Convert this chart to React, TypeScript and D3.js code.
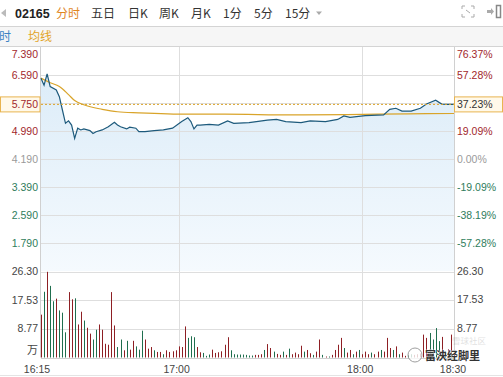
import React from "react";
import * as d3 from "d3";

const W = 503;
const H = 377;

// ---------- data ----------
const tabs = ["分时", "五日", "日K", "周K", "月K", "1分", "5分", "15分"];
const tabX = [56, 91, 128, 159, 191, 223, 254, 285];
const code = "02165";
const prevClose = 4.19;
const lastPrice = 5.75;
const priceTicks = [7.39, 6.59, 5.79, 4.99, 4.19, 3.39, 2.59, 1.79];
const volTicks = [26.3, 17.53, 8.77];
const timeLabels = ["16:15", "17:00", "18:00", "18:30"];
const timeMinutes = [0, 45, 105, 135];

const priceMin = [0, 1, 2, 3, 5, 6, 7, 8, 9, 10, 11, 12, 13, 14, 16, 17, 18, 20, 22, 24, 25, 26, 28, 29, 31, 32, 34, 37, 40, 43, 46, 48, 49, 50, 51, 52, 55, 58, 61, 63, 68, 74, 77, 80, 85, 88, 93, 97, 99, 101, 106, 112, 114, 116, 118, 121, 124, 126, 129, 131, 133, 135];
const priceVal = [6.5, 6.3, 6.62, 6.26, 6.16, 5.97, 5.59, 5.21, 5.28, 5.16, 4.78, 5.07, 5.02, 5.05, 5.0, 4.92, 4.97, 5.02, 5.11, 5.24, 5.16, 5.11, 5.05, 5.1, 5.07, 4.97, 4.97, 5.0, 5.02, 5.07, 5.26, 5.37, 5.26, 5.05, 5.16, 5.16, 5.18, 5.16, 5.28, 5.21, 5.23, 5.3, 5.32, 5.26, 5.23, 5.28, 5.26, 5.32, 5.42, 5.38, 5.43, 5.45, 5.61, 5.64, 5.56, 5.56, 5.64, 5.76, 5.87, 5.76, 5.75, 5.75];

const avgMin = [0, 3, 6, 9, 11, 14, 20, 25, 32, 48, 60, 82, 100, 120, 135];
const avgVal = [6.5, 6.37, 6.26, 6.03, 5.86, 5.74, 5.61, 5.54, 5.51, 5.47, 5.47, 5.45, 5.46, 5.48, 5.49];

const volumes = [13.1, 20.1, 26.2, 21.9, 17.2, 18.0, 14.4, 13.7, 7.7, 20.0, 17.8, 18.1, 10.1, 14.0, 11.3, 9.1, 7.3, 5.5, 8.5, 10.1, 8.5, 4.2, 3.9, 20.0, 9.8, 3.2, 5.5, 2.2, 5.1, 2.4, 5.1, 3.4, 2.4, 8.2, 5.5, 2.7, 3.2, 2.2, 1.7, 1.7, 1.0, 2.2, 1.7, 1.9, 2.2, 3.4, 3.2, 9.5, 6.0, 6.5, 6.2, 3.2, 1.6, 1.4, 0.5, 0.9, 2.4, 1.4, 1.6, 1.9, 3.9, 6.2, 2.2, 1.0, 0.9, 0.9, 0.9,
  0.8, 0.6, 0.6, 0.8, 0.8, 1.0, 2.3, 4.1, 2.9, 1.8, 1.1, 0.8, 1.8, 0.8, 2.7, 1.0, 1.5, 1.0, 3.6, 1.8, 2.3, 1.3, 0.8, 1.8, 5.5, 0.8, 0.3, 0.3, 0.8, 2.3, 3.9, 6.0, 2.9, 1.5, 2.3, 1.0, 1.8, 2.3, 1.0, 1.8, 1.0, 1.5, 1.0, 1.8, 2.3, 1.8, 6.0, 2.9, 2.3, 3.4, 1.0, 1.5, 0.5, 0.8, 1.0, 0.8, 1.0, 1.2, 7.0, 6.0, 7.5, 5.5, 9.0, 5.0, 6.3, 1.8, 2.5, 7.0, 1.5];
const volDir = ("rgrggrgggr" + "rgrrgrrggr" + "rrrrrggrgr" + "rgggrrrgrr" + "grrrrrrrgg" + "grrgggrrrr" + "rrggggg" +
  "gggrrrgrrg" + "rrgrgrrrrg" + "rrgrrgrgrr" + "rrgrrgrgrr" + "rgrrgrrrgr" + "grrggrrrrr" + "ggggrgrrr").split("");

// ---------- layout ----------
const L = 41, R = 454;
const pTop = 47, pBot = 271;
const vTop = 271.5, vBot = 357.5;

const RED = "#a2272c";
const GREEN = "#2f7d5c";
const GREY = "#9a9a9a";
const GRID = "#dedede";
const numFont = "'Liberation Sans', Arial, sans-serif";
const cjkFont = "'Noto Sans CJK SC', sans-serif";

export default function App() {
  const x = d3.scaleLinear().domain([0, 135]).range([L, R]);
  const yP = d3.scaleLinear().domain([0.99, 7.39]).range([pBot, pTop]);
  const yV = d3.scaleLinear().domain([0, 26.3]).range([vBot, vTop]);

  const pricePts = priceMin.map((m, i) => [m, priceVal[i]] as [number, number]);
  const avgPts = avgMin.map((m, i) => [m, avgVal[i]] as [number, number]);

  const line = d3.line<[number, number]>().x(d => x(d[0])).y(d => yP(d[1])).curve(d3.curveLinear);
  const avgLine = d3.line<[number, number]>().x(d => x(d[0])).y(d => yP(d[1])).curve(d3.curveMonotoneX);
  const area = d3.area<[number, number]>().x(d => x(d[0])).y0(pBot).y1(d => yP(d[1]));

  const pct = (p: number) => ((p / prevClose - 1) * 100).toFixed(2) + "%";
  const priceColor = (p: number) => (Math.abs(p - prevClose) < 1e-6 ? GREY : p > prevClose ? RED : GREEN);

  const yLast = yP(lastPrice);

  return (
    <svg width={W} height={H} style={{ position: "absolute", left: 0, top: 0, background: "#fff" }}>
      <defs>
        <linearGradient id="fillg" x1="0" y1="0" x2="0" y2="1">
          <stop offset="0%" stopColor="#dcecf8" />
          <stop offset="100%" stopColor="#f5fafe" />
        </linearGradient>
      </defs>
      <rect x={0} y={0} width={W} height={H} fill="#fff" />

      {/* header */}
      <path d="M1,13 L6,9 L6,17 Z" fill="#bbb" />
      <text x={15} y={17.5} fontFamily={numFont} fontWeight="bold" fontSize={12.5} fill="#222">{code}</text>
      {tabs.map((t, i) => (
        <text key={t} x={tabX[i]} y={17.5} fontFamily={cjkFont} fontSize={12} fill={i === 0 ? "#e0861f" : "#333"}>{t}</text>
      ))}
      <path d="M316,11.5 L322,11.5 L319,15 Z" fill="#aaa" />
      {/* fullscreen icon */}
      <g stroke="#aaa" strokeWidth={1} fill="none">
        <path d="M462,9 L462,6 L465,6 M471,6 L474,6 L474,9 M462,14 L462,17 L465,17 M471,17 L474,17 L474,14" />
        <path d="M466,10 L470,13" />
      </g>
      <path d="M487,10 L491,10 L491,8 L494,11.5 L491,15 L491,13 L487,13 Z" fill="#aaa" />
      <rect x={496.5} y={5.5} width={4} height={12} fill="none" stroke="#888" strokeWidth={1.5} />
      <line x1={0} x2={W} y1={26.5} y2={26.5} stroke="#d4d4d4" />
      <rect x={0} y={27} width={W} height={19.5} fill="#f6f6f6" />
      <text x={-1} y={40.5} fontFamily={cjkFont} fontSize={12} fill="#3b83c4">时</text>
      <text x={28} y={40.5} fontFamily={cjkFont} fontSize={12} fill="#e2a428">均线</text>
      <line x1={0} x2={W} y1={46.5} y2={46.5} stroke="#d4d4d4" />

      {/* price area */}
      <path d={area(pricePts) || ""} fill="url(#fillg)" />

      {/* grid */}
      {priceTicks.slice(1).map(p => (
        <line key={p} x1={L} x2={R} y1={Math.round(yP(p)) + 0.5} y2={Math.round(yP(p)) + 0.5} stroke={GRID} />
      ))}
      {volTicks.map(v => (
        <line key={v} x1={L} x2={R} y1={Math.round(yV(v)) + 0.5} y2={Math.round(yV(v)) + 0.5} stroke={GRID} />
      ))}
      <line x1={L} x2={R} y1={Math.round(vBot) + 0.5} y2={Math.round(vBot) + 0.5} stroke="#d0d0d0" />
      {[45, 105].map(m => (
        <line key={m} x1={Math.round(x(m)) + 0.5} x2={Math.round(x(m)) + 0.5} y1={pTop} y2={vBot} stroke={GRID} />
      ))}
      <line x1={L - 0.5} x2={L - 0.5} y1={pTop} y2={vBot} stroke="#d0d0d0" />
      <line x1={R + 0.5} x2={R + 0.5} y1={pTop} y2={vBot} stroke="#d0d0d0" />

      {/* average line */}
      <path d={avgLine(avgPts) || ""} fill="none" stroke="#d9a42a" strokeWidth={1.2} />
      {/* price line */}
      <path d={line(pricePts) || ""} fill="none" stroke="#1d5a7c" strokeWidth={1.2} />

      {/* last price dotted line */}
      <line x1={L} x2={R} y1={yLast} y2={yLast} stroke="#d9a42a" strokeWidth={1} strokeDasharray="2,2" />

      {/* volume bars */}
      {volumes.map((v, i) => (
        <line key={i} x1={Math.round(x(i)) + 0.5} x2={Math.round(x(i)) + 0.5} y1={vBot} y2={yV(v)}
          stroke={volDir[i] === "r" ? "#8e1f24" : "#1f6e4e"} strokeWidth={1} />
      ))}

      {/* left price labels */}
      {priceTicks.map((p, i) => i === 2 ? null : (
        <text key={p} x={38} y={(i === 0 ? yP(p) + 7 : yP(p)) + 3.5} textAnchor="end" fontFamily={numFont} fontSize={10.5} fill={priceColor(p)}>{p.toFixed(3)}</text>
      ))}
      {/* right pct labels */}
      {priceTicks.map((p, i) => i === 2 ? null : (
        <text key={p} x={457} y={(i === 0 ? yP(p) + 7 : yP(p)) + 3.5} fontFamily={numFont} fontSize={10.5} fill={priceColor(p)}>{pct(p)}</text>
      ))}

      {/* last price boxes */}
      <rect x={0.5} y={yLast - 7.5} width={39.5} height={15} fill="#fff9ea" stroke="#e8b450" />
      <text x={38} y={yLast + 4} textAnchor="end" fontFamily={numFont} fontSize={10.5} fill={RED}>{lastPrice.toFixed(3)}</text>
      <rect x={454.5} y={yLast - 7.5} width={48} height={15} fill="#fff9ea" stroke="#e8b450" />
      <text x={457} y={yLast + 4} fontFamily={numFont} fontSize={10.5} fill="#333">{pct(lastPrice)}</text>

      {/* volume labels */}
      {volTicks.map(v => (
        <g key={v}>
          <text x={38} y={yV(v) + 3.5} textAnchor="end" fontFamily={numFont} fontSize={10.5} fill="#444">{v.toFixed(2)}</text>
          <text x={457} y={yV(v) + 3} fontFamily={numFont} fontSize={10.5} fill="#444">{v.toFixed(2)}</text>
        </g>
      ))}
      <text x={27} y={354} fontFamily={cjkFont} fontSize={11} fill="#444">万</text>

      {/* time labels */}
      {timeLabels.map((t, i) => (
        <text key={t} x={i === 0 ? 37 : i === 3 ? 453 : x(timeMinutes[i]) - 2} y={372.5} textAnchor="middle" fontFamily={numFont} fontSize={10.5} fill="#444">{t}</text>
      ))}
      <line x1={0} x2={W} y1={375.5} y2={375.5} stroke="#e4e4e4" />

      {/* watermark */}
      <text x={452} y={344} fontFamily={cjkFont} fontSize={8.5} fill="#000" opacity={0.12}>雪球社区</text>
      <circle cx={415} cy={355} r={7} fill="#fff" opacity={0.8} stroke="#888" strokeWidth={1} />
      <text x={425} y={359.5} fontFamily={cjkFont} fontSize={11} fontWeight="bold" fill="#333" stroke="#fff" strokeWidth={0.6} paintOrder="stroke">富泱经脚里</text>
    </svg>
  );
}
